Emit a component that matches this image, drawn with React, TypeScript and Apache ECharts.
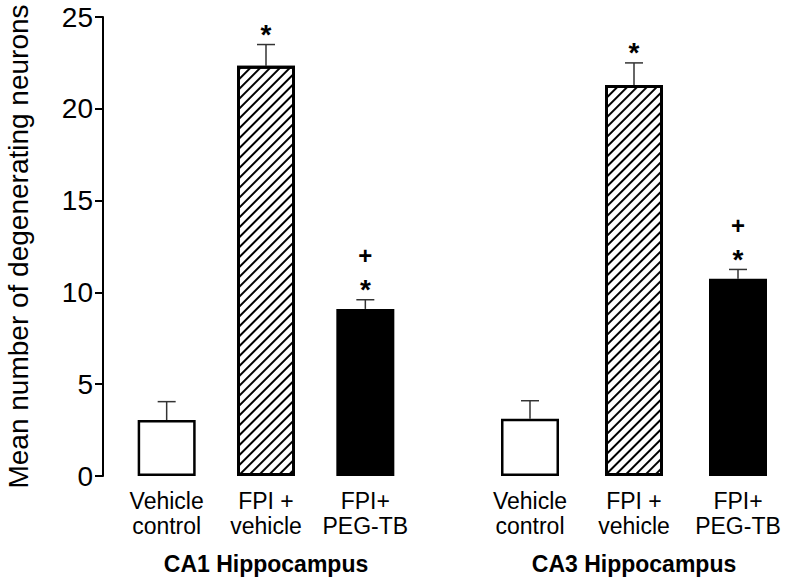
import React, { useEffect, useRef } from "react";
import * as echarts from "echarts";

const groupNames = ["CA1 Hippocampus", "CA3 Hippocampus"];
const categories = ["Vehicle\ncontrol", "FPI +\nvehicle", "FPI+\nPEG-TB"];
const ca1Means = [3.05, 22.35, 9.1];
const ca1Errors = [1.0, 1.15, 0.5];
const ca3Means = [3.12, 21.3, 10.75];
const ca3Errors = [0.98, 1.2, 0.5];
const ca1Star = [0, 1, 1];
const ca1Plus = [0, 0, 1];
const ca3Star = [0, 1, 1];
const ca3Plus = [0, 0, 1];
const yMin = 0;
const yMax = 25;
const yStep = 5;
const yName = "Mean number of degenerating neurons";

const FONT = "'Liberation Sans', Arial, Helvetica, sans-serif";

const barStyles = [
  { color: "#ffffff", borderColor: "#000000", borderWidth: 2.5 },
  {
    color: "#ffffff",
    borderColor: "#000000",
    borderWidth: 3,
    decal: {
      symbol: "rect",
      symbolSize: 1,
      color: "#000000",
      dashArrayX: [1, 0],
      dashArrayY: [1.2, 4.8],
      rotation: -Math.PI / 4,
    },
  },
  { color: "#000000", borderColor: "#000000", borderWidth: 0 },
];

function errRender(params: any, api: any) {
  const idx = api.value(0);
  const mean = api.value(1);
  const err = api.value(2);
  const star = api.value(3);
  const plus = api.value(4);
  const base = api.coord([idx, mean]);
  const top = api.coord([idx, mean + err]);
  const x = base[0];
  const children: any[] = [
    {
      type: "line",
      shape: { x1: x, y1: base[1], x2: x, y2: top[1] },
      style: { stroke: "#333333", lineWidth: 1.5 },
    },
    {
      type: "line",
      shape: { x1: x - 9, y1: top[1], x2: x + 9, y2: top[1] },
      style: { stroke: "#333333", lineWidth: 1.5 },
    },
  ];
  if (star) {
    children.push({
      type: "text",
      x: x,
      y: top[1] - 10,
      style: {
        text: "*",
        font: `bold 28px ${FONT}`,
        fill: "#000",
        align: "center",
        verticalAlign: "middle",
      },
    });
  }
  if (plus) {
    children.push({
      type: "text",
      x: x,
      y: top[1] - 44,
      style: {
        text: "+",
        font: `bold 24px ${FONT}`,
        fill: "#000",
        align: "center",
        verticalAlign: "middle",
      },
    });
  }
  return { type: "group", children };
}

function barData(means: number[]) {
  return means.map((v, i) => ({ value: v, itemStyle: barStyles[i] }));
}

function errData(means: number[], errs: number[], stars: number[], pluses: number[]) {
  return means.map((v, i) => [i, v, errs[i], stars[i], pluses[i]]);
}

export default function App() {
  const ref = useRef<HTMLDivElement>(null);
  useEffect(() => {
    document.body.style.margin = "0";
    const chart = echarts.init(ref.current!, null, { renderer: "svg" });
    const xAxisCommon = {
      type: "category",
      data: categories,
      axisLine: { show: false },
      axisTick: { show: false },
      axisLabel: {
        color: "#000",
        fontSize: 23,
        fontFamily: FONT,
        lineHeight: 25,
        margin: 12,
        interval: 0,
      },
      nameLocation: "middle",
      nameGap: 76,
      nameTextStyle: {
        color: "#000",
        fontSize: 23,
        fontWeight: "bold",
        fontFamily: FONT,
      },
    };
    chart.setOption({
      animation: false,
      backgroundColor: "#ffffff",
      grid: [
        { left: 117, width: 298, top: 17, bottom: 104 },
        { left: 478, width: 312, top: 17, bottom: 104 },
      ],
      xAxis: [
        { ...xAxisCommon, gridIndex: 0, name: groupNames[0] },
        { ...xAxisCommon, gridIndex: 1, name: groupNames[1] },
      ],
      yAxis: [
        {
          type: "value",
          gridIndex: 0,
          min: yMin,
          max: yMax,
          interval: yStep,
          offset: 14,
          name: yName,
          nameLocation: "middle",
          nameGap: 71,
          nameTextStyle: { color: "#000", fontSize: 28, fontFamily: FONT },
          axisLine: { show: true, lineStyle: { color: "#000", width: 2 } },
          axisTick: { show: true, length: 8, lineStyle: { color: "#000", width: 2 } },
          axisLabel: {
            color: "#000",
            fontSize: 28,
            lineHeight: 24,
            fontFamily: FONT,
            margin: 10,
          },
          splitLine: { show: false },
        },
        {
          type: "value",
          gridIndex: 1,
          min: yMin,
          max: yMax,
          interval: yStep,
          show: false,
          splitLine: { show: false },
        },
      ],
      series: [
        {
          type: "bar",
          xAxisIndex: 0,
          yAxisIndex: 0,
          barWidth: 58,
          data: barData(ca1Means),
          z: 2,
        },
        {
          type: "bar",
          xAxisIndex: 1,
          yAxisIndex: 1,
          barWidth: 58,
          data: barData(ca3Means),
          z: 2,
        },
        {
          type: "custom",
          xAxisIndex: 0,
          yAxisIndex: 0,
          renderItem: errRender,
          data: errData(ca1Means, ca1Errors, ca1Star, ca1Plus),
          z: 1,
        },
        {
          type: "custom",
          xAxisIndex: 1,
          yAxisIndex: 1,
          renderItem: errRender,
          data: errData(ca3Means, ca3Errors, ca3Star, ca3Plus),
          z: 1,
        },
      ],
    });
    return () => chart.dispose();
  }, []);
  return <div ref={ref} style={{ width: 792, height: 580 }} />;
}
